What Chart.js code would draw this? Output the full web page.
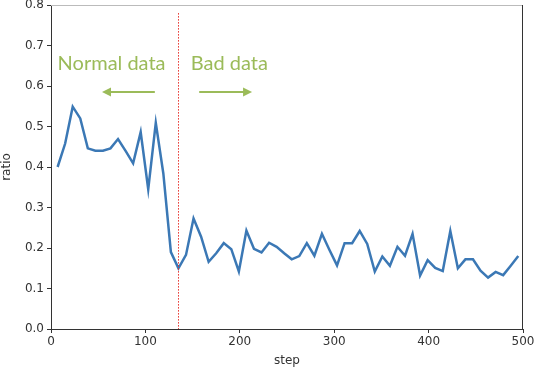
<!DOCTYPE html>
<html>
<head>
<meta charset="utf-8">
<script src="https://cdn.jsdelivr.net/npm/chart.js@4/dist/chart.umd.min.js"></script>
<style>
  html, body { margin: 0; padding: 0; background: #fff; }
  #wrap { width: 534px; height: 368px; }
</style>
</head>
<body>
<div id="wrap"><canvas id="chart" width="534" height="368"></canvas></div>
<script>
// steps (x) and ratio (y)
const steps = [
  7, 15, 23, 31, 39, 47, 55, 63, 71, 79, 87, 95, 103, 111, 119, 127, 135, 143, 151, 159,
  167, 175, 183, 191, 199, 207, 215, 223, 231, 239, 247, 255, 263, 271, 279, 287, 295, 303, 311, 319,
  327, 335, 343, 351, 359, 367, 375, 383, 391, 399, 407, 415, 423, 431, 439, 447, 455, 463, 471, 479,
  487, 495
];
const ratio = [
  0.400, 0.458, 0.549, 0.520, 0.446, 0.440, 0.440, 0.446, 0.469, 0.440, 0.409, 0.486, 0.345, 0.509, 0.384, 0.190, 0.150, 0.183, 0.273, 0.228,
  0.166, 0.187, 0.212, 0.197, 0.142, 0.243, 0.198, 0.189, 0.213, 0.203, 0.187, 0.172, 0.180, 0.212, 0.181, 0.235, 0.195, 0.157, 0.212, 0.212,
  0.242, 0.210, 0.142, 0.179, 0.156, 0.203, 0.181, 0.235, 0.132, 0.170, 0.151, 0.143, 0.242, 0.150, 0.172, 0.172, 0.144, 0.127, 0.141, 0.133,
  0.156, 0.180
];
const xTicks = [0, 100, 200, 300, 400, 500];
const yTicks = [0, 0.1, 0.2, 0.3, 0.4, 0.5, 0.6, 0.7, 0.8];

// the split between normal and bad data
const splitStep = 135;
const labelNormal = 'Normal data';
const labelBad = 'Bad data';

const green = '#9bbb59';

// spines, red split line, arrows and labels
const extras = {
  id: 'extras',
  afterDatasetsDraw(chart) {
    const { ctx, chartArea: a, scales: { x, y } } = chart;
    ctx.save();

    // top and right frame
    ctx.lineWidth = 1;
    ctx.strokeStyle = '#bbbbbb';
    ctx.beginPath();
    ctx.moveTo(a.left, a.top + 0.5);
    ctx.lineTo(a.right, a.top + 0.5);
    ctx.stroke();
    ctx.strokeStyle = '#333333';
    ctx.beginPath();
    ctx.moveTo(a.right - 0.5, a.top);
    ctx.lineTo(a.right - 0.5, a.bottom);
    ctx.stroke();

    // red dotted split line
    const sx = Math.round(x.getPixelForValue(splitStep)) + 0.5;
    ctx.strokeStyle = '#e8322c';
    ctx.setLineDash([1.5, 1.5]);
    ctx.beginPath();
    ctx.moveTo(sx, y.getPixelForValue(0.78));
    ctx.lineTo(sx, a.bottom);
    ctx.stroke();
    ctx.setLineDash([]);

    // labels
    ctx.fillStyle = green;
    ctx.font = '20px Lato, "Open Sans", sans-serif';
    ctx.textBaseline = 'middle';
    ctx.textAlign = 'left';
    ctx.fillText(labelNormal, x.getPixelForValue(7), y.getPixelForValue(0.655));
    ctx.fillText(labelBad, x.getPixelForValue(148), y.getPixelForValue(0.655));

    // arrows
    const arrow = (from, to, yv) => {
      const x0 = x.getPixelForValue(from);
      const x1 = x.getPixelForValue(to);
      const yy = y.getPixelForValue(yv);
      const dir = Math.sign(x1 - x0);
      ctx.strokeStyle = green;
      ctx.lineWidth = 2;
      ctx.beginPath();
      ctx.moveTo(x0, yy);
      ctx.lineTo(x1 - dir * 7, yy);
      ctx.stroke();
      ctx.beginPath();
      ctx.moveTo(x1, yy);
      ctx.lineTo(x1 - dir * 9, yy - 4.5);
      ctx.lineTo(x1 - dir * 9, yy + 4.5);
      ctx.closePath();
      ctx.fill();
    };
    arrow(110, 54, 0.585);
    arrow(157, 213, 0.585);

    ctx.restore();
  }
};

new Chart(document.getElementById('chart'), {
  type: 'line',
  data: {
    datasets: [{
      data: steps.map((s, i) => ({ x: s, y: ratio[i] })),
      borderColor: '#3b78b5',
      borderWidth: 2.5,
      pointRadius: 0,
      tension: 0,
      fill: false
    }]
  },
  options: {
    responsive: false,
    animation: false,
    layout: { padding: { top: 5, right: 11, left: 0, bottom: 0 } },
    plugins: { legend: { display: false }, tooltip: { enabled: false } },
    scales: {
      x: {
        type: 'linear',
        min: 0,
        max: 500,
        afterBuildTicks: s => { s.ticks = xTicks.map(v => ({ value: v })); },
        afterFit: s => { s.height = 39; s.paddingRight = 0; s.paddingLeft = 0; },
        grid: { drawOnChartArea: false, tickLength: 4, tickColor: '#333' },
        border: { color: '#333', width: 1 },
        ticks: { color: '#333', font: { family: 'DejaVu Sans', size: 12 }, padding: 2, maxRotation: 0 },
        title: { display: true, text: 'step', color: '#333', font: { family: 'DejaVu Sans', size: 12 }, padding: { top: 0, bottom: 0 } }
      },
      y: {
        min: 0,
        max: 0.8,
        afterBuildTicks: s => { s.ticks = yTicks.map(v => ({ value: v })); },
        afterFit: s => { s.width = 51; s.paddingTop = 0; s.paddingBottom = 0; },
        grid: { drawOnChartArea: false, tickLength: 4, tickColor: '#333' },
        border: { color: '#333', width: 1 },
        ticks: { color: '#333', font: { family: 'DejaVu Sans', size: 12 }, padding: 3, callback: v => v.toFixed(1) },
        title: { display: true, text: 'ratio', color: '#333', font: { family: 'DejaVu Sans', size: 12 }, padding: { top: 0, bottom: 0 } }
      }
    }
  },
  plugins: [extras]
});
</script>
</body>
</html>
